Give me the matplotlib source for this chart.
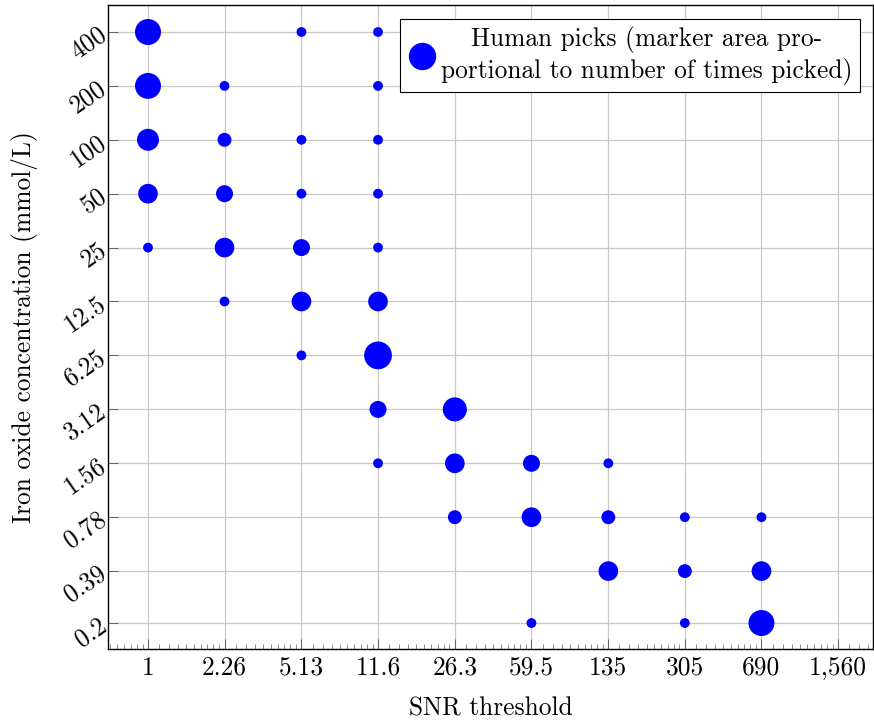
import numpy as np
import matplotlib
matplotlib.use('Agg')
from matplotlib import pyplot as plt
from matplotlib.lines import Line2D

plt.rcParams['font.family'] = ['cmr10', 'DejaVu Serif']
plt.rcParams['axes.formatter.use_mathtext'] = True

# tick values as printed on the axes
snr_ticks = [1, 2.26, 5.13, 11.6, 26.3, 59.5, 135, 305, 690, 1560]
snr_labels = ['1', '2.26', '5.13', '11.6', '26.3', '59.5', '135', '305', '690', '1,560']
conc_ticks = [400, 200, 100, 50, 25, 12.5, 6.25, 3.12, 1.56, 0.78, 0.39, 0.2]
conc_labels = ['400', '200', '100', '50', '25', '12.5', '6.25', '3.12', '1.56', '0.78', '0.39', '0.2']

# human picks: snr threshold, iron oxide concentration, times picked
snr = [1, 1, 1, 1, 1,
       2.26, 2.26, 2.26, 2.26, 2.26,
       5.13, 5.13, 5.13, 5.13, 5.13, 5.13,
       11.6, 11.6, 11.6, 11.6, 11.6, 11.6, 11.6, 11.6, 11.6,
       26.3, 26.3, 26.3,
       59.5, 59.5, 59.5,
       135, 135, 135,
       305, 305, 305,
       690, 690, 690]
conc = [400, 200, 100, 50, 25,
        200, 100, 50, 25, 12.5,
        400, 100, 50, 25, 12.5, 6.25,
        400, 200, 100, 50, 25, 12.5, 6.25, 3.12, 1.56,
        3.12, 1.56, 0.78,
        1.56, 0.78, 0.2,
        1.56, 0.78, 0.39,
        0.78, 0.39, 0.2,
        0.78, 0.39, 0.2]
picks = [7, 7, 5, 4, 1,
         1, 2, 3, 4, 1,
         1, 1, 1, 3, 4, 1,
         1, 1, 1, 1, 1, 4, 8, 3, 1,
         6, 4, 2,
         3, 4, 1,
         1, 2, 4,
         1, 2, 1,
         1, 4, 7]

fig = plt.figure(figsize=(8.74, 7.26), dpi=100)
ax = fig.add_axes([108/874, 77/726, 765/874, 644/726])

ax.scatter(snr, conc, s=np.array(picks) * 50, color='blue', linewidths=0, zorder=3)

ax.set_xscale('log')
ax.set_yscale('log', base=2)

ax.set_xticks(snr_ticks)
ax.set_xticklabels(snr_labels)
# minor ticks: linear subdivisions between the major ticks
ratio = snr_ticks[1] / snr_ticks[0]
edges = [snr_ticks[0] / ratio] + snr_ticks + [snr_ticks[-1] * ratio]
minor = []
for a, b in zip(edges[:-1], edges[1:]):
    minor += list(np.linspace(a, b, 11)[1:-1])
ax.set_xticks(minor, minor=True)
ax.set_xticklabels([], minor=True)

ax.set_yticks(conc_ticks)
ax.set_yticklabels(conc_labels)
ax.yaxis.set_minor_locator(matplotlib.ticker.NullLocator())
for lab in ax.get_yticklabels():
    lab.set_rotation(35)
    lab.set_rotation_mode('anchor')
    lab.set_ha('right')
    lab.set_va('center')

ax.set_xlim(0.653, 2265)
ax.set_ylim(0.2 * 2 ** -0.482, 400 * 2 ** 0.501)

ax.tick_params(which='major', direction='in', length=7, width=0.6, color='#555555',
               labelsize=18.3, pad=5)
ax.tick_params(axis='y', pad=3)
ax.tick_params(which='minor', direction='in', length=3.5, width=0.6, color='#777777')

ax.grid(True, which='major', color='#c8c8c8', linewidth=0.9)
ax.set_axisbelow(True)
for sp in ax.spines.values():
    sp.set_linewidth(1.0)
    sp.set_color('black')

ax.set_xlabel('SNR threshold', fontsize=18.3, labelpad=12)
ax.set_ylabel('Iron oxide concentration (mmol/L)', fontsize=18.3)
ax.yaxis.set_label_coords(-70/765, 0.5)

handle = Line2D([], [], marker='o', linestyle='', color='blue', markersize=18.7)
leg = ax.legend([handle], ['Human picks (marker area pro-\nportional to number of times picked)'],
                loc='upper right', bbox_to_anchor=(1 - 13/765, 1 - 14/644),
                borderaxespad=0, fontsize=18.3, fancybox=False, framealpha=1,
                edgecolor='black', handletextpad=0.2, borderpad=0.3, handlelength=1.1,
                labelspacing=0.1)
leg.get_frame().set_linewidth(0.8)
for t in leg.get_texts():
    t.set_multialignment('center')

fig.savefig('out.png', dpi=100)
